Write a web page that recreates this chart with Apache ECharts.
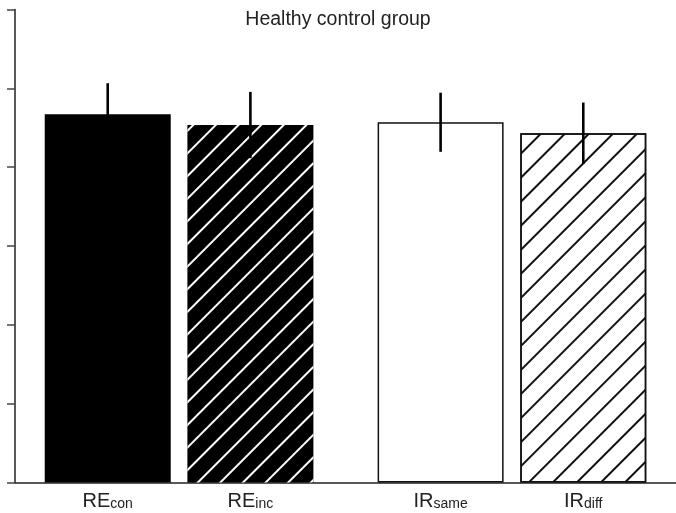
<!DOCTYPE html>
<html>
<head>
<meta charset="utf-8">
<script src="https://cdn.jsdelivr.net/npm/echarts@6/dist/echarts.min.js"></script>
<style>
html,body{margin:0;padding:0;background:#fff;}
#chart{width:676px;height:513px;}
</style>
</head>
<body>
<div id="chart"></div>
<script>
// ---- data ----
const titleText = 'Healthy control group';
const labelMain = ['RE', 'RE', 'IR', 'IR'];
const labelSub = ['con', 'inc', 'same', 'diff'];
const groups = ['RE', 'RE', 'IR', 'IR'];
const means = [0.934, 0.907, 0.914, 0.886];
const errors = [0.079, 0.084, 0.075, 0.078];
const yTicks = [0, 0.2, 0.4, 0.6, 0.8, 1.0, 1.2];

// ---- layout helpers (positions computed from group membership) ----
const slot = [];
{
  let pos = 0, prevGroup = null;
  groups.forEach((g, i) => {
    if (i > 0) pos += (g === prevGroup) ? 3 : 4;
    slot.push(pos);
    prevGroup = g;
  });
}

const styles = [
  { color: '#000', borderColor: '#000', borderWidth: 0 },
  { color: '#000', borderColor: '#000', borderWidth: 0,
    decal: { symbol: 'rect', symbolSize: 1, dashArrayX: [1, 0], dashArrayY: [2, 14], rotation: -Math.PI / 4, color: '#fff' } },
  { color: '#fff', borderColor: '#111', borderWidth: 1.5 },
  { color: '#fff', borderColor: '#111', borderWidth: 1.5,
    decal: { symbol: 'rect', symbolSize: 1, dashArrayX: [1, 0], dashArrayY: [1.6, 14.4], rotation: -Math.PI / 4, color: '#111' } }
];

const barData = means.map((v, i) => ({ value: [slot[i], v], itemStyle: styles[i] }));
const errData = means.map((v, i) => [slot[i], v, errors[i]]);

const FONT = 'Liberation Sans, Arial, sans-serif';
const chart = echarts.init(document.getElementById('chart'), null, { renderer: 'canvas' });
chart.setOption({
  backgroundColor: '#fff',
  animation: false,
  title: {
    text: titleText,
    left: 'center',
    top: 10,
    padding: 0,
    textStyle: { fontFamily: FONT, fontSize: 19.5, fontWeight: 'normal', color: '#222' }
  },
  grid: { left: 15, right: 0, top: 9.5, bottom: 30.5, containLabel: false },
  xAxis: {
    type: 'value',
    min: -1.95,
    max: slot[slot.length - 1] + 1.95,
    splitLine: { show: false },
    axisLine: { show: true, onZero: false, lineStyle: { color: '#222', width: 1.5 } },
    axisTick: { show: false },
    axisLabel: {
      show: true,
      customValues: slot,
      margin: 9,
      formatter: function (val) {
        const i = slot.indexOf(val);
        if (i < 0) return '';
        return '{m|' + labelMain[i] + '}{s|' + labelSub[i] + '}';
      },
      rich: {
        m: { fontFamily: FONT, fontSize: 20, color: '#222', verticalAlign: 'bottom', lineHeight: 20 },
        s: { fontFamily: FONT, fontSize: 14, color: '#222', verticalAlign: 'bottom', lineHeight: 16 }
      }
    }
  },
  yAxis: {
    type: 'value',
    min: yTicks[0],
    max: yTicks[yTicks.length - 1],
    interval: yTicks[1] - yTicks[0],
    splitLine: { show: false },
    axisLine: { show: true, onZero: false, lineStyle: { color: '#222', width: 1.5 } },
    axisTick: { show: true, inside: false, length: 8, lineStyle: { color: '#444', width: 1.5 } },
    axisLabel: { show: false }
  },
  series: [
    {
      type: 'bar',
      barWidth: 126,
      data: barData,
      z: 2
    },
    {
      type: 'custom',
      z: 5,
      data: errData,
      renderItem: function (params, api) {
        const x = api.value(0), v = api.value(1), e = api.value(2);
        const p1 = api.coord([x, v + e]);
        const p2 = api.coord([x, v - e]);
        return {
          type: 'line',
          shape: { x1: p1[0], y1: p1[1], x2: p2[0], y2: p2[1] },
          style: { stroke: '#000', lineWidth: 2.6 }
        };
      }
    }
  ]
});
</script>
</body>
</html>
